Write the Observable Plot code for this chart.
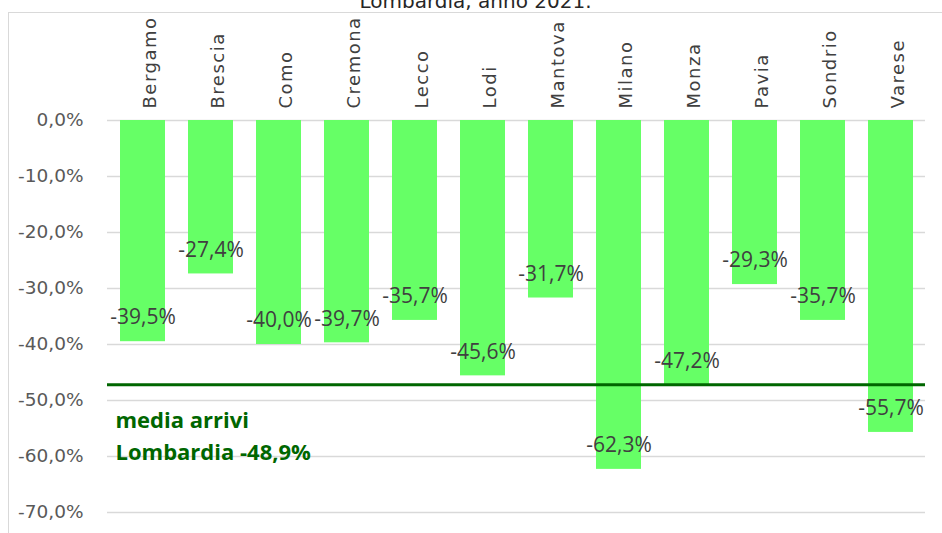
<!DOCTYPE html>
<html>
<head>
<meta charset="utf-8">
<script src="https://cdn.jsdelivr.net/npm/d3@7"></script>
<script src="https://cdn.jsdelivr.net/npm/@observablehq/plot@0.6"></script>
<style>
  html, body { margin: 0; padding: 0; background: #fff; }
  #wrap { position: relative; width: 942px; height: 533px; overflow: hidden; }
  #border { position: absolute; left: 8px; top: 12px; width: 933px; height: 530px;
            border-left: 1.5px solid #d9d9d9; border-top: 1.5px solid #d9d9d9; pointer-events: none; }
</style>
</head>
<body>
<div id="wrap"><div id="border"></div></div>
<script>
const title = "Lombardia, anno 2021.";
const province = ["Bergamo","Brescia","Como","Cremona","Lecco","Lodi","Mantova","Milano","Monza","Pavia","Sondrio","Varese"];
const variazione = [-39.5,-27.4,-40.0,-39.7,-35.7,-45.6,-31.7,-62.3,-47.2,-29.3,-35.7,-55.7];
const yTicks = [0,-10,-20,-30,-40,-50,-60,-70];
const mediaLinea = -47.2;
const mediaTesto = ["media arrivi", "Lombardia -48,9%"];

const data = province.map((p, i) => ({provincia: p, valore: variazione[i]}));
const fmt = v => v.toFixed(1).replace(".", ",").replace(/^-0,0$/, "0,0") + "%";
const legendY = [-53.6, -59.3];

const chart = Plot.plot({
  width: 942,
  height: 533,
  marginTop: 120,
  marginBottom: 21,
  marginLeft: 107,
  marginRight: 17,
  style: {fontFamily: "DejaVu Sans", background: "transparent"},
  x: {domain: province, paddingInner: 0.34, paddingOuter: 0.17, axis: null},
  y: {domain: [-70, 0], axis: null},
  marks: [
    Plot.ruleY(yTicks, {stroke: "#d9d9d9", strokeWidth: 1.5}),
    Plot.text(yTicks, {y: d => d, text: d => fmt(d), frameAnchor: "left", dx: -24, textAnchor: "end",
      fontSize: 18.5, fill: "#595959"}),
    Plot.barY(data, {x: "provincia", y: "valore", fill: "#66ff66"}),
    Plot.ruleY([mediaLinea], {stroke: "#006600", strokeWidth: 3}),
    Plot.text(data, {x: "provincia", y: "valore", text: d => fmt(d.valore), dy: -24,
      fontFamily: "Open Sans", fontSize: 21, fill: "#404040"}),
    Plot.text(province, {x: d => d, text: d => d, frameAnchor: "top", dy: -12, rotate: -90,
      textAnchor: "start", fontSize: 18, fill: "#404040"}),
    Plot.text(mediaTesto, {text: d => d, frameAnchor: "left", dx: 8,
      y: (d, i) => legendY[i],
      textAnchor: "start", fontFamily: "Open Sans", fontWeight: "bold", fontSize: 22, fill: "#006600"}),
    Plot.text([title], {frameAnchor: "top", dx: -41, dy: -113, lineAnchor: "bottom",
      text: d => d, fontSize: 20, fill: "#262626"})
  ]
});
d3.select(chart).selectAll("text").filter(function() { return province.includes(this.textContent); })
  .style("letter-spacing", "1.5px");
document.getElementById("wrap").prepend(chart);
</script>
</body>
</html>
